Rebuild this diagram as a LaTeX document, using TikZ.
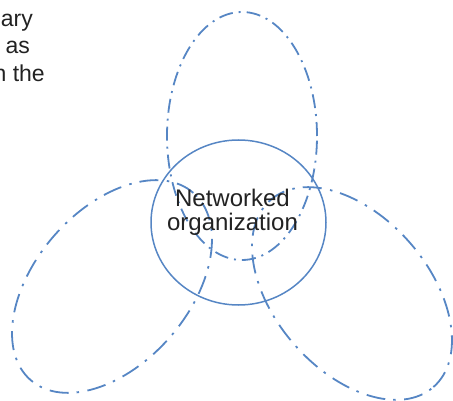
\documentclass[tikz,border=0pt]{standalone}
\usepackage{fontspec}
\setmainfont{Liberation Sans}
\definecolor{lineblue}{HTML}{5686C4}
\definecolor{txtgray}{HTML}{222222}
\begin{document}
\begin{tikzpicture}[x=1pt,y=-1pt,
  dashdot/.style={draw=lineblue, line width=1.8pt, dash pattern=on 14pt off 6pt on 2pt off 6pt},
  dashdotlong/.style={draw=lineblue, line width=1.8pt, dash pattern=on 19pt off 8pt on 2.5pt off 8.5pt},
  solidring/.style={draw=lineblue, line width=1.5pt},
  centertext/.style={inner sep=0pt, text=txtgray, font=\fontsize{24}{28}\selectfont},
  cornertext/.style={inner sep=0pt, text=txtgray, font=\fontsize{23}{27}\selectfont}]
\useasboundingbox (0,0) rectangle (453,401);
\clip (0,0) rectangle (453,401);
% top petal
\draw[dashdot] (242,136) ellipse [x radius=75pt, y radius=124pt];
% left petal
\draw[dashdotlong, rotate around={49:(112,286.5)}] (112,286.5) ellipse [x radius=124pt, y radius=77pt];
% right petal
\draw[dashdotlong, rotate around={-49:(352,293.5)}] (352,293.5) ellipse [x radius=124pt, y radius=77pt];
% central ring
\draw[solidring] (238.5,222.5) ellipse [x radius=87.5pt, y radius=82.5pt];
% texts
\node[centertext, anchor=base] (net) at (232.5,207) {Networked};
\node[centertext, anchor=base] (org) at (232.5,231) {organization};
\node[cornertext, anchor=base east] (t1) at (33,27) {ary};
\node[cornertext, anchor=base east] (t2) at (30,54) {as};
\node[cornertext, anchor=base east] (t3) at (45,82) {n the};
\end{tikzpicture}
\end{document}
